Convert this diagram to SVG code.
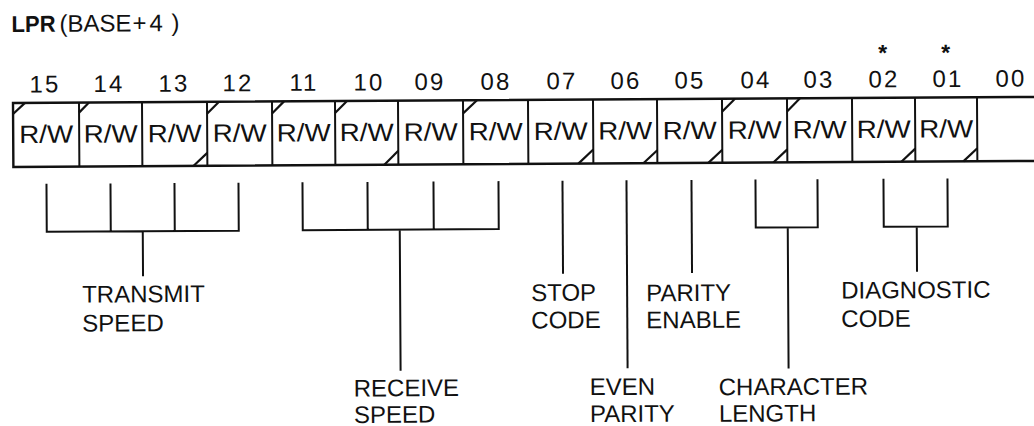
<svg xmlns="http://www.w3.org/2000/svg" width="1034" height="426" viewBox="0 0 1034 426">
<style>
text{font-family:"Liberation Sans",Arial,Helvetica,sans-serif;fill:#111}
.t{font-size:23px;font-weight:bold}
.h{font-size:24px}
.n{font-size:24px;letter-spacing:2px;text-anchor:middle}
.rw{font-size:25px;text-anchor:middle}
.lb{font-size:24px}
.ast{font-size:23px;font-weight:bold;text-anchor:middle}
.box{fill:none;stroke:#111;stroke-width:2.4}
.c{fill:none;stroke:#111;stroke-width:2}
.d{stroke:#111;stroke-width:2.2}
</style>
<rect width="1034" height="426" fill="#fff"/>
<g transform="rotate(-0.34 13 103)">
<g id="title">
<text class="t" x="12" y="32" textLength="44" lengthAdjust="spacingAndGlyphs">LPR</text>
<text class="h" x="60" y="32">(BASE<tspan x="133">+</tspan><tspan x="150">4</tspan><tspan x="172">)</tspan></text>
</g>
<g id="bitnumbers">
<text class="n" x="45" y="92.5">15</text>
<text class="n" x="109" y="92.5">14</text>
<text class="n" x="174" y="92.5">13</text>
<text class="n" x="238" y="92.5">12</text>
<text class="n" x="304" y="92.5">11</text>
<text class="n" x="369" y="92.5">10</text>
<text class="n" x="430" y="92.5">09</text>
<text class="n" x="496" y="92.5">08</text>
<text class="n" x="562" y="92.5">07</text>
<text class="n" x="626" y="92.5">06</text>
<text class="n" x="690" y="92.5">05</text>
<text class="n" x="756" y="92.5">04</text>
<text class="n" x="819" y="92.5">03</text>
<text class="n" x="884" y="92.5">02</text>
<text class="n" x="948" y="92.5">01</text>
<text class="n" x="1011" y="92.5">00</text>
<text class="ast" x="883" y="66">*</text>
<text class="ast" x="946" y="66">*</text>
</g>
<g id="register">
<path class="box" d="M1040,103 H13 V167 H1040"/>
<path class="c" d="M79,103V167M142,103V167M207,103V167M272,103V167M335,103V167M398,103V167M463,103V167M528,103V167M593,103V167M657,103V167M722,103V167M787,103V167M852,103V167M915,103V167M977,103V167"/>
<g id="corners" class="d">
<line x1="13" y1="114" x2="25" y2="103"/>
<line x1="79" y1="113" x2="89" y2="103"/>
<line x1="193" y1="167" x2="207" y2="154"/>
<line x1="207" y1="115" x2="219" y2="103"/>
<line x1="272" y1="115" x2="284" y2="103"/>
<line x1="335" y1="115" x2="347" y2="103"/>
<line x1="384" y1="167" x2="398" y2="153"/>
<line x1="463" y1="116" x2="477" y2="103"/>
<line x1="578" y1="167" x2="593" y2="153"/>
<line x1="643" y1="167" x2="657" y2="154"/>
<line x1="708" y1="167" x2="722" y2="154"/>
<line x1="722" y1="116" x2="735" y2="103"/>
<line x1="773" y1="167" x2="787" y2="154"/>
<line x1="787" y1="116" x2="800" y2="103"/>
<line x1="901" y1="167" x2="915" y2="154"/>
<line x1="963" y1="167" x2="977" y2="154"/>
</g>
<text class="rw" x="46" y="143" textLength="54" lengthAdjust="spacingAndGlyphs">R/W</text>
<text class="rw" x="110.5" y="143" textLength="54" lengthAdjust="spacingAndGlyphs">R/W</text>
<text class="rw" x="174.5" y="143" textLength="54" lengthAdjust="spacingAndGlyphs">R/W</text>
<text class="rw" x="239.5" y="143" textLength="54" lengthAdjust="spacingAndGlyphs">R/W</text>
<text class="rw" x="303.5" y="143" textLength="54" lengthAdjust="spacingAndGlyphs">R/W</text>
<text class="rw" x="366.5" y="143" textLength="54" lengthAdjust="spacingAndGlyphs">R/W</text>
<text class="rw" x="430.5" y="143" textLength="54" lengthAdjust="spacingAndGlyphs">R/W</text>
<text class="rw" x="495.5" y="143" textLength="54" lengthAdjust="spacingAndGlyphs">R/W</text>
<text class="rw" x="560.5" y="143" textLength="54" lengthAdjust="spacingAndGlyphs">R/W</text>
<text class="rw" x="625" y="143" textLength="54" lengthAdjust="spacingAndGlyphs">R/W</text>
<text class="rw" x="689.5" y="143" textLength="54" lengthAdjust="spacingAndGlyphs">R/W</text>
<text class="rw" x="754.5" y="143" textLength="54" lengthAdjust="spacingAndGlyphs">R/W</text>
<text class="rw" x="819.5" y="143" textLength="54" lengthAdjust="spacingAndGlyphs">R/W</text>
<text class="rw" x="883.5" y="143" textLength="54" lengthAdjust="spacingAndGlyphs">R/W</text>
<text class="rw" x="946" y="143" textLength="54" lengthAdjust="spacingAndGlyphs">R/W</text>
</g>
<g id="connectors" class="c">
<path d="M46,184V232H238V184M110,184V232M174,184V232M142,232V277"/>
<path d="M302,184V232H498V184M367,184V232M433,184V232M399,232V373"/>
<path d="M562,184V277"/>
<path d="M626,184V372"/>
<path d="M691,184V277"/>
<path d="M755,184V232H817V184M787,232V373"/>
<path d="M883,184V232H947V184M916,232V277"/>
</g>
<g id="transmit-speed"><text class="lb" x="81" y="303">TRANSMIT</text><text class="lb" x="81" y="332">SPEED</text></g>
<g id="receive-speed"><text class="lb" x="352" y="398.5">RECEIVE</text><text class="lb" x="352" y="425">SPEED</text></g>
<g id="stop-code"><text class="lb" x="530" y="304">STOP</text><text class="lb" x="530" y="331.5">CODE</text></g>
<g id="even-parity"><text class="lb" x="588" y="398.5">EVEN</text><text class="lb" x="588" y="425.5">PARITY</text></g>
<g id="parity-enable"><text class="lb" x="645" y="305">PARITY</text><text class="lb" x="645" y="332">ENABLE</text></g>
<g id="character-length"><text class="lb" x="717" y="399.5">CHARACTER</text><text class="lb" x="717" y="426">LENGTH</text></g>
<g id="diagnostic-code"><text class="lb" x="840" y="303.5">DIAGNOSTIC</text><text class="lb" x="840" y="332">CODE</text></g>
</g>
</svg>
